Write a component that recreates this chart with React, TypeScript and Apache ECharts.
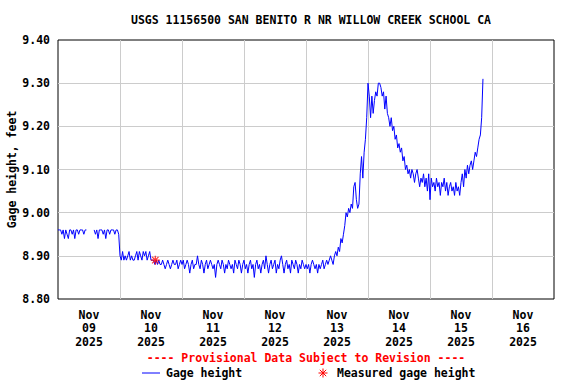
import React, { useEffect, useRef } from 'react';
import * as echarts from 'echarts';

const chartTitle = 'USGS 11156500 SAN BENITO R NR WILLOW CREEK SCHOOL CA';
const yAxisName = 'Gage height, feet';
const provisionalNote = '---- Provisional Data Subject to Revision ----';
const seriesName = 'Gage height';
const measuredName = 'Measured gage height';
const dayLabels = [
  'Nov\n09\n2025', 'Nov\n10\n2025', 'Nov\n11\n2025', 'Nov\n12\n2025',
  'Nov\n13\n2025', 'Nov\n14\n2025', 'Nov\n15\n2025', 'Nov\n16\n2025',
];
const yMin = 8.8;
const yMax = 9.4;
const yStep = 0.1;
const startUtc = Date.UTC(2025, 10, 9);
const dayCount = 8;
const stepMinutes = 30;

// gage height, feet, every 30 minutes starting at 00:00 of each day
const nov09 = [8.96,8.96,8.96,8.95,8.96,8.94,8.96,8.95,8.94,8.96,8.96,8.95,8.96,8.94,8.96,8.96,8.95,8.96,8.96,8.96,8.95,8.96,8.96,null,null,8.96,null,null,8.96,8.95,8.96,8.94,8.96,8.96,8.96,8.95,8.96,8.94,8.96,8.96,8.95,8.96,8.96,8.96,8.95,8.96,8.96,8.95];
const nov10 = [8.90,8.89,8.91,8.89,8.90,8.89,8.90,8.91,8.89,8.90,8.89,8.89,8.90,8.91,8.89,8.91,8.90,8.89,8.91,8.90,8.91,8.89,8.90,8.91,8.89,8.89,8.89,8.88,8.89,8.88,8.89,8.88,8.88,8.89,8.88,8.87,8.88,8.89,8.88,8.87,8.88,8.89,8.88,8.88,8.89,8.87,8.88,8.89];
const nov11 = [8.88,8.89,8.87,8.88,8.89,8.88,8.86,8.88,8.89,8.87,8.88,8.88,8.90,8.88,8.87,8.89,8.88,8.86,8.88,8.89,8.87,8.88,8.89,8.88,8.87,8.88,8.85,8.88,8.89,8.88,8.87,8.89,8.88,8.86,8.88,8.87,8.89,8.88,8.87,8.88,8.86,8.89,8.88,8.87,8.89,8.88,8.86,8.88];
const nov12 = [8.89,8.87,8.88,8.86,8.88,8.89,8.87,8.88,8.85,8.88,8.89,8.87,8.88,8.86,8.88,8.89,8.87,8.90,8.88,8.86,8.88,8.89,8.87,8.88,8.89,8.86,8.88,8.87,8.89,8.90,8.88,8.86,8.88,8.89,8.87,8.88,8.86,8.89,8.88,8.87,8.89,8.88,8.86,8.88,8.87,8.89,8.88,8.87];
const nov13 = [8.88,8.87,8.88,8.86,8.88,8.89,8.88,8.87,8.88,8.86,8.88,8.87,8.88,8.89,8.87,8.88,8.89,8.88,8.89,8.90,8.89,8.88,8.90,8.91,8.90,8.92,8.91,8.94,8.93,8.95,8.97,9.00,8.99,9.01,9.00,9.02,9.01,9.06,9.07,9.03,9.01,9.02,9.09,9.13,9.08,9.14,9.17,9.22];
const nov14 = [9.30,9.27,9.22,9.27,9.23,9.26,9.28,9.27,9.30,9.30,9.29,9.27,9.28,9.24,9.27,9.23,9.22,9.20,9.22,9.19,9.20,9.17,9.18,9.15,9.16,9.14,9.15,9.12,9.13,9.10,9.11,9.09,9.10,9.08,9.10,9.09,9.07,9.09,9.10,9.08,9.06,9.08,9.07,9.09,9.06,9.08,9.05,9.09];
const nov15 = [9.03,9.08,9.06,9.07,9.05,9.08,9.06,9.07,9.04,9.07,9.06,9.08,9.05,9.07,9.04,9.06,9.07,9.05,9.06,9.04,9.07,9.05,9.06,9.04,9.07,9.09,9.06,9.10,9.08,9.11,9.09,9.11,9.12,9.10,9.12,9.14,9.13,9.15,9.17,9.18,9.22,9.31];

const measuredTimes = [Date.UTC(2025, 10, 10, 13, 40)];
const measuredValues = [8.89];

const FONT = 'DejaVu Sans Mono';

export default function App() {
  const ref = useRef<HTMLDivElement>(null);

  useEffect(() => {
    document.body.style.margin = '0';
    if (!ref.current) return;
    const chart = echarts.init(ref.current, undefined, { renderer: 'svg' });
    const dayMs = 86400000;
    const stepMs = stepMinutes * 60000;
    const all = [...nov09, ...nov10, ...nov11, ...nov12, ...nov13, ...nov14, ...nov15];
    const lineData = all.map((v, i) => [startUtc + i * stepMs, v]);
    const measuredData = measuredTimes.map((t, i) => [t, measuredValues[i]]);
    const labelStyle = { fontFamily: FONT, fontWeight: 'bold' as const, fontSize: 11.5, color: '#000' };

    const asteriskPath = 'path://M0,4.5L9,4.5M4.5,0L4.5,9M1.3,1.3L7.7,7.7M7.7,1.3L1.3,7.7';

    chart.setOption({
      animation: false,
      title: {
        text: chartTitle,
        left: 306,
        top: 9,
        textAlign: 'center',
        textStyle: { ...labelStyle, fontSize: 11.5 },
      },
      grid: {
        left: 58, right: 22, top: 40, bottom: 85,
        containLabel: false,
        outerBoundsMode: 'none',
        show: true, borderColor: '#000', borderWidth: 1, backgroundColor: 'transparent',
      },
      xAxis: [
        {
          type: 'value',
          min: startUtc,
          max: startUtc + dayCount * dayMs,
          interval: dayMs,
          axisLabel: { show: false },
          axisTick: { show: false },
          axisLine: { show: false },
          splitLine: { show: true, showMinLine: false, showMaxLine: false, lineStyle: { color: '#cccccc', width: 1 } },
        },
        {
          type: 'category',
          data: dayLabels,
          position: 'bottom',
          boundaryGap: true,
          axisTick: { show: false },
          axisLine: { show: false },
          splitLine: { show: false },
          axisLabel: { ...labelStyle, margin: 9, lineHeight: 13.5, interval: 0 },
        },
      ],
      yAxis: {
        type: 'value',
        min: yMin,
        max: yMax,
        interval: yStep,
        name: yAxisName,
        nameLocation: 'middle',
        nameRotate: 90,
        nameGap: 40,
        nameMoveOverlap: false,
        nameTextStyle: labelStyle,
        axisLabel: { ...labelStyle, margin: 8, formatter: (v: number) => v.toFixed(2) },
        axisTick: { show: false },
        axisLine: { show: false },
        splitLine: { show: true, showMinLine: false, showMaxLine: false, lineStyle: { color: '#cccccc', width: 1 } },
      },
      series: [
        {
          name: seriesName,
          type: 'line',
          xAxisIndex: 0,
          data: lineData,
          showSymbol: false,
          symbol: 'none',
          connectNulls: false,
          lineStyle: { color: '#0000ff', width: 1 },
          z: 3,
        },
        {
          name: measuredName,
          type: 'scatter',
          xAxisIndex: 0,
          data: measuredData,
          symbol: asteriskPath,
          symbolSize: 9,
          itemStyle: { color: 'rgba(0,0,0,0)', borderColor: '#ff0000', borderWidth: 1.2 },
          z: 4,
        },
      ],
      graphic: [
        {
          type: 'text', x: 306, y: 358,
          style: { text: provisionalNote, fill: '#ff0000', font: `bold 11.5px "${FONT}"`, textAlign: 'center', textVerticalAlign: 'middle' },
        },
        { type: 'line', shape: { x1: 142, y1: 373, x2: 160, y2: 373 }, style: { stroke: '#0000ff', lineWidth: 1 } },
        {
          type: 'text', x: 166, y: 373,
          style: { text: seriesName, fill: '#000', font: `bold 11.5px "${FONT}"`, textAlign: 'left', textVerticalAlign: 'middle' },
        },
        {
          type: 'group', x: 323, y: 373,
          children: [
            { type: 'line', shape: { x1: -4.5, y1: 0, x2: 4.5, y2: 0 }, style: { stroke: '#ff0000', lineWidth: 1 } },
            { type: 'line', shape: { x1: 0, y1: -4.5, x2: 0, y2: 4.5 }, style: { stroke: '#ff0000', lineWidth: 1 } },
            { type: 'line', shape: { x1: -3.2, y1: -3.2, x2: 3.2, y2: 3.2 }, style: { stroke: '#ff0000', lineWidth: 1 } },
            { type: 'line', shape: { x1: 3.2, y1: -3.2, x2: -3.2, y2: 3.2 }, style: { stroke: '#ff0000', lineWidth: 1 } },
          ],
        },
        {
          type: 'text', x: 337, y: 373,
          style: { text: measuredName, fill: '#000', font: `bold 11.5px "${FONT}"`, textAlign: 'left', textVerticalAlign: 'middle' },
        },
      ],
    });

    return () => chart.dispose();
  }, []);

  return <div ref={ref} style={{ width: 576, height: 384 }} />;
}
